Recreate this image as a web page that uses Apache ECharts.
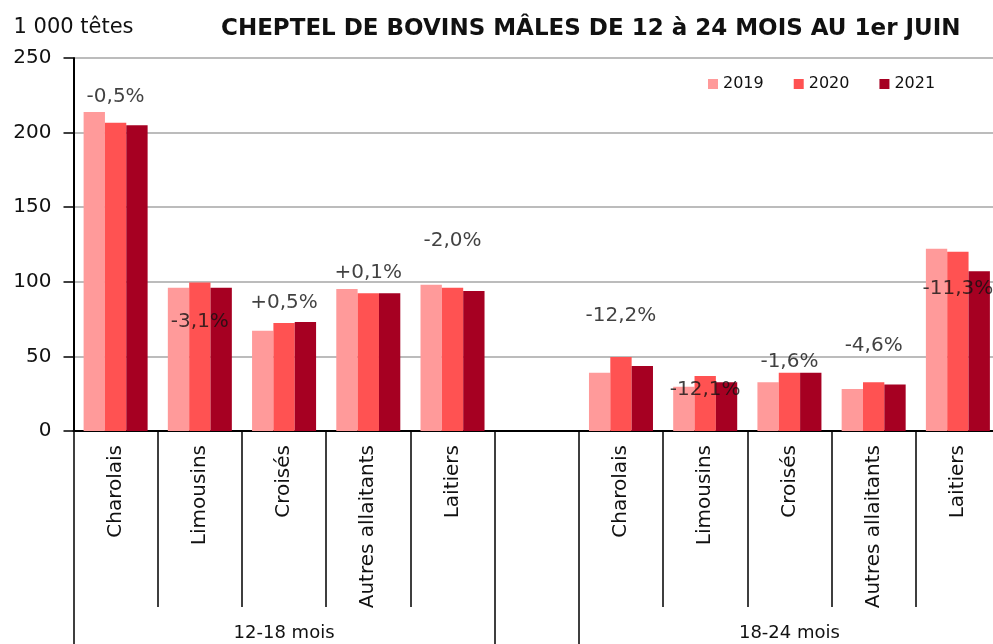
<!DOCTYPE html>
<html>
<head>
<meta charset="utf-8">
<script src="https://cdn.jsdelivr.net/npm/echarts@6/dist/echarts.min.js"></script>
<style>
  html, body { margin: 0; padding: 0; background: #fff; overflow: hidden; }
  /* the original picture is cut a few pixels into the last category */
  #chart { width: 1000px; height: 644px; }
</style>
</head>
<body>
<div id="chart"></div>
<script>
// categories (empty slot between the two age groups)
var categories = ['Charolais', 'Limousins', 'Croisés', 'Autres allaitants', 'Laitiers', '',
                  'Charolais', 'Limousins', 'Croisés', 'Autres allaitants', 'Laitiers'];
var groups = ['12-18 mois', '18-24 mois'];
var groupCenters = [2.5, 8.5];
var groupBounds = [0, 5, 6, 11];
var catBounds = [1, 2, 3, 4, 7, 8, 9, 10];

// 1 000 têtes
var v2019 = [213.8, 96.0, 67.2, 95.2, 98.1, '-', 39.1, 29.7, 32.6, 28.2, 122.2];
var v2020 = [206.6, 99.6, 72.4, 92.3, 96.0, '-', 49.6, 36.9, 39.1, 32.6, 120.2];
var v2021 = [204.9, 96.0, 73.1, 92.3, 93.8, '-', 43.6, 32.6, 39.1, 31.1, 107.0];

// variation 2021/2020 and the height where each label sits
var variation = ['-0,5%', '-3,1%', '+0,5%', '+0,1%', '-2,0%', '',
                 '-12,2%', '-12,1%', '-1,6%', '-4,6%', '-11,3%'];
var labelY = [224, 73.3, 86.2, 106.1, 127.3, '-', 77.1, 27.5, 46.4, 57.0, 95.6];

var font = 'DejaVu Sans';
var chart = echarts.init(document.getElementById('chart'));

var barSeries = function(name, data, color) {
    return {
        name: name,
        type: 'bar',
        data: data,
        barGap: '0%',
        barCategoryGap: '24%',
        itemStyle: { color: color }
    };
};

// extra value axes that only draw the separators below the plot
var tickAxis = function(values, length, labels) {
    return {
        type: 'value',
        min: 0,
        max: 11,
        position: 'bottom',
        axisLine: { show: false },
        splitLine: { show: false },
        axisTick: { show: true, customValues: values, length: length, lineStyle: { color: '#000', width: 1.5 } },
        axisLabel: labels ? {
            show: true, customValues: groupCenters, margin: 193,
            fontFamily: font, fontSize: 18, color: '#111',
            formatter: function(v) { return groups[groupCenters.indexOf(v)]; }
        } : { show: false }
    };
};

chart.setOption({
    animation: false,
    title: {
        text: 'CHEPTEL DE BOVINS MÂLES DE 12 à 24 MOIS AU 1er JUIN',
        left: 216,
        top: 13,
        textStyle: { fontFamily: font, fontSize: 23, fontWeight: 'bold', color: '#111' }
    },
    legend: {
        data: ['2019', '2020', '2021'],
        left: 703,
        top: 71,
        icon: 'rect',
        itemWidth: 10,
        itemHeight: 10,
        itemGap: 30,
        textStyle: { fontFamily: font, fontSize: 16, color: '#111' }
    },
    grid: { left: 73.5, right: 0, top: 58, bottom: 213, containLabel: false },
    xAxis: [{
        type: 'category',
        data: categories,
        position: 'bottom',
        axisLine: { show: true, lineStyle: { color: '#000', width: 2 } },
        axisTick: { show: false },
        axisLabel: {
            interval: 0, rotate: 90, margin: 14,
            fontFamily: font, fontSize: 20, color: '#111'
        }
    },
        tickAxis(catBounds, 176, false),
        tickAxis(groupBounds, 213, true)
    ],
    yAxis: {
        type: 'value',
        min: 0,
        max: 250,
        interval: 50,
        name: '1 000 têtes',
        nameLocation: 'end',
        nameGap: 30,
        nameTextStyle: { fontFamily: font, fontSize: 21, color: '#111', verticalAlign: 'middle', align: 'center' },
        axisLine: { show: true, onZero: false, lineStyle: { color: '#000', width: 2 } },
        axisTick: { show: true, length: 10, lineStyle: { color: '#000', width: 1.5 } },
        axisLabel: { margin: 22, fontFamily: font, fontSize: 20, color: '#111' },
        splitLine: { show: true, lineStyle: { color: '#a6a6a6', width: 1.5 } }
    },
    series: [
        barSeries('2019', v2019, '#ff9a9a'),
        barSeries('2020', v2020, '#ff5252'),
        barSeries('2021', v2021, '#a60022'),
        {
            name: 'variation',
            type: 'scatter',
            data: labelY,
            symbolSize: 1,
            itemStyle: { color: 'rgba(0,0,0,0)' },
            silent: true,
            z: 10,
            label: {
                show: true,
                position: 'inside',
                fontFamily: font,
                fontSize: 20,
                color: '#111',
                formatter: function(p) { return variation[p.dataIndex]; }
            }
        }
    ]
});
</script>
</body>
</html>
